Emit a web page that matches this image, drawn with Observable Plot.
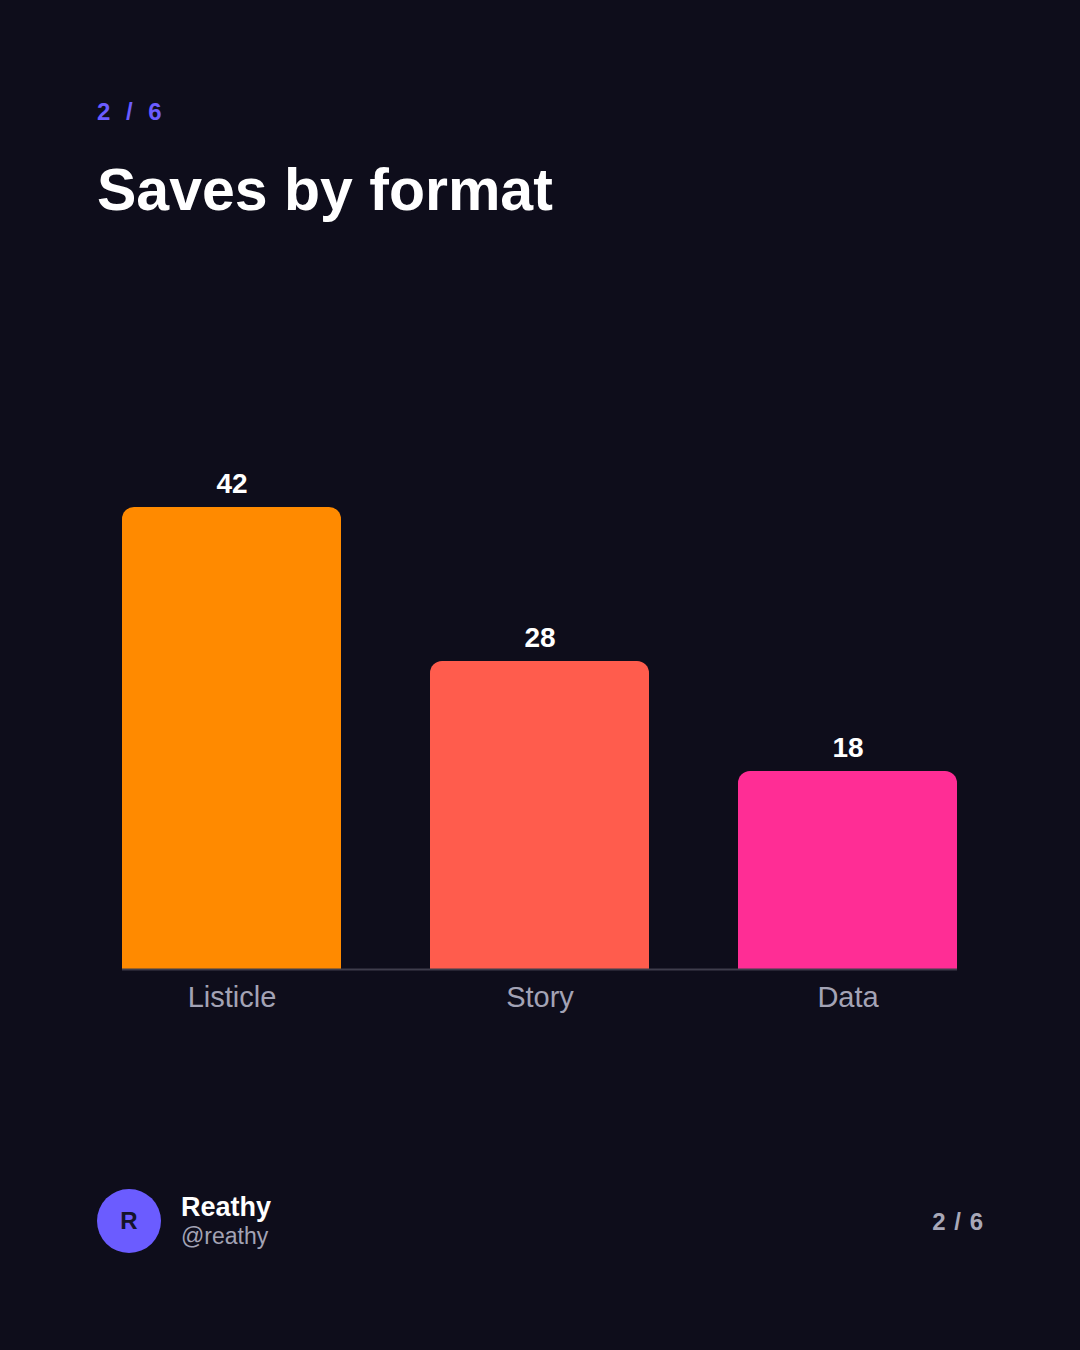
<!DOCTYPE html>
<html>
<head>
<meta charset="utf-8">
<script src="https://cdn.jsdelivr.net/npm/d3@7"></script>
<script src="https://cdn.jsdelivr.net/npm/@observablehq/plot@0.6"></script>
<style>
  html, body { margin: 0; padding: 0; background: #0e0d1b; }
  #page { position: relative; width: 1080px; height: 1350px; background: #0e0d1b; overflow: hidden;
          font-family: "Liberation Sans", Arial, Helvetica, sans-serif; }
  .abs { position: absolute; white-space: nowrap; }
  #kicker { left: 97px; top: 97px; font-size: 24px; font-weight: bold; color: #6b5cff; letter-spacing: 4.5px; line-height: 30px; }
  #title { left: 97px; top: 156px; font-size: 59px; font-weight: bold; color: #ffffff; line-height: 68px; }
  #chart { position: absolute; left: 0; top: 420px; }
  #avatar { left: 97px; top: 1189px; width: 64px; height: 64px; border-radius: 50%; background: #6b5cff;
            color: #15142a; font-weight: bold; font-size: 24px; line-height: 64px; text-align: center; }
  #name { left: 181px; top: 1191px; font-size: 27px; font-weight: bold; color: #ffffff; line-height: 32px; }
  #handle { left: 181px; top: 1222px; font-size: 23px; color: #a3a3b5; line-height: 28px; }
  #pager { right: 96px; top: 1207px; font-size: 24px; font-weight: bold; color: #a8a8b8; letter-spacing: 1px; line-height: 30px; }
</style>
</head>
<body>
<div id="page">
  <div class="abs" id="kicker">2 / 6</div>
  <div class="abs" id="title">Saves by format</div>
  <div id="chart"></div>
  <div class="abs" id="avatar">R</div>
  <div class="abs" id="name">Reathy</div>
  <div class="abs" id="handle">@reathy</div>
  <div class="abs" id="pager">2 / 6</div>
</div>
<script>
const formats = ["Listicle", "Story", "Data"];
const saves = [42, 28, 18];
const barColors = ["#ff8a00", "#ff5c4d", "#ff2d95"];

const data = formats.map((f, i) => ({format: f, value: saves[i], color: barColors[i]}));

const chart = Plot.plot({
  width: 1080,
  height: 629,
  marginTop: 87,
  marginBottom: 80,
  marginLeft: 122,
  marginRight: 123,
  style: {background: "transparent", color: "#a3a3b5", fontFamily: "'Liberation Sans', Arial, sans-serif", overflow: "visible"},
  x: {domain: formats, paddingInner: 0.289, paddingOuter: 0, label: null},
  y: {domain: [0, 42], axis: null},
  marks: [
    Plot.barY(data, {x: "format", y: "value", fill: "color", rx: 12}),
    Plot.barY(data, {x: "format", y1: 0, y2: d => d.value / 2, fill: "color"}),
    Plot.ruleY([0], {stroke: "#3e3d4c", strokeWidth: 2}),
    Plot.text(data, {x: "format", y: "value", text: d => String(d.value), fill: "#ffffff",
      fontSize: 28, fontWeight: "bold", lineAnchor: "bottom", dy: -15}),
    Plot.axisX({tickSize: 0, tickPadding: 17, fontSize: 29, fill: "#a3a3b5", label: null})
  ]
});
document.getElementById("chart").appendChild(chart);
</script>
</body>
</html>
